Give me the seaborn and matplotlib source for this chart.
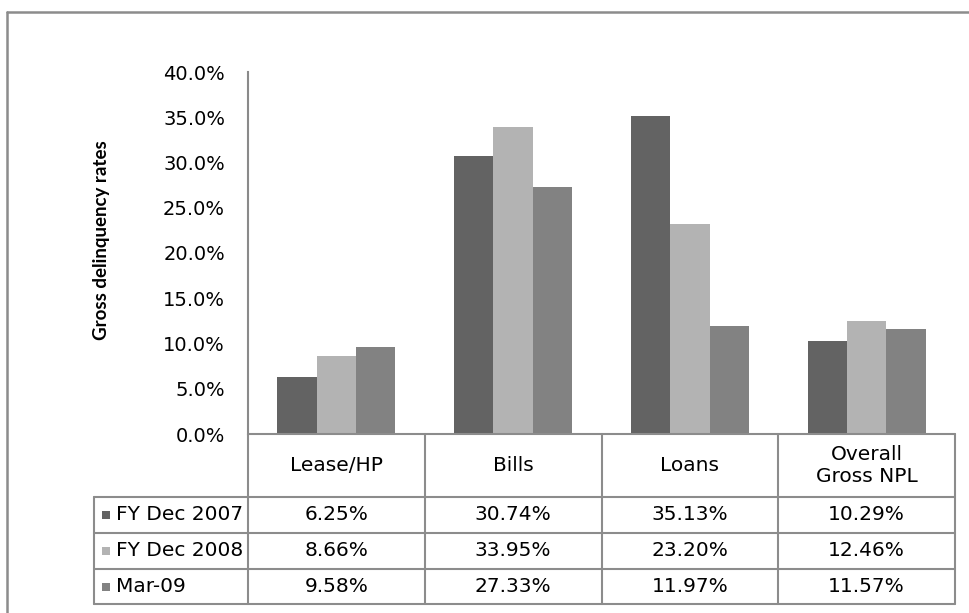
import matplotlib
matplotlib.use("Agg")
import matplotlib.pyplot as plt
from matplotlib.lines import Line2D
from matplotlib.patches import Rectangle
from matplotlib.ticker import FuncFormatter
import pandas as pd
import seaborn as sns

# Delinquency rates (%) by portfolio segment
categories = ["Lease/HP", "Bills", "Loans", "Overall\nGross NPL"]
series = ["FY Dec 2007", "FY Dec 2008", "Mar-09"]
rates_dec2007 = [6.25, 30.74, 35.13, 10.29]
rates_dec2008 = [8.66, 33.95, 23.20, 12.46]
rates_mar2009 = [9.58, 27.33, 11.97, 11.57]
colors = ["#636363", "#b3b3b3", "#828282"]
yticks = [0, 5, 10, 15, 20, 25, 30, 35, 40]

rows = [rates_dec2007, rates_dec2008, rates_mar2009]
df = pd.DataFrame(
    [(c, s, v) for s, vals in zip(series, rows) for c, v in zip(categories, vals)],
    columns=["category", "series", "rate"],
)

W, H = 969, 613
sns.set_theme(style="white")
plt.rcParams["font.family"] = ["DejaVu Sans"]
plt.rcParams["text.color"] = "#000000"
fig = plt.figure(figsize=(W / 100, H / 100), dpi=100)

def fx(px):
    return px / W

def fy(py):
    return 1 - py / H

ax_left, ax_right, ax_top, ax_bottom = 248, 955, 72, 434
ax = fig.add_axes([fx(ax_left), fy(ax_bottom), fx(ax_right - ax_left), (ax_bottom - ax_top) / H])

sns.barplot(data=df, x="category", y="rate", hue="series", hue_order=series,
            order=categories, palette=colors, width=0.667, gap=0,
            saturation=1, ax=ax, legend=False, linewidth=0)

ax.set_xlim(-0.5, 3.5)
ax.set_ylim(0, 40)
ax.set_yticks(yticks)
ax.yaxis.set_major_formatter(FuncFormatter(lambda v, _: f"{v:.1f}%"))
ax.set_xticks([])
ax.set_xlabel("")
ax.set_ylabel("")
ax.tick_params(axis="y", length=0, pad=16.5, labelsize=14, labelcolor="#000000")
for side in ["top", "right", "bottom"]:
    ax.spines[side].set_visible(False)
ax.spines["left"].set_color("#8a8a8a")
ax.spines["left"].set_linewidth(1.5)

fig.text(fx(101), fy(240), "Gross delinquency rates", rotation=90,
         ha="center", va="center", fontsize=13.5, fontweight="bold",
         family=["Lato", "DejaVu Sans"], color="#000000")

# Data table beneath the plot
fig.canvas.draw()
col_px = [ax.transData.transform((x, 0))[0] for x in [-0.5, 0.5, 1.5, 2.5, 3.5]]
col_x = [p / W for p in col_px]
header_top, header_bottom = 434, 497
row_edges = [497, 533, 569, 604]
table_left = 94
line_kw = dict(color="#8c8c8c", linewidth=1.5)

def hline(x0, x1, py):
    fig.add_artist(Line2D([x0, x1], [fy(py), fy(py)], transform=fig.transFigure, **line_kw))

def vline(x, py0, py1):
    fig.add_artist(Line2D([x, x], [fy(py0), fy(py1)], transform=fig.transFigure, **line_kw))

hline(col_x[0], col_x[-1], header_top)
for py in row_edges:
    hline(fx(table_left), col_x[-1], py)
for x in col_x:
    vline(x, header_top, row_edges[-1])
vline(fx(table_left), row_edges[0], row_edges[-1])

for i, cat in enumerate(categories):
    cx = (col_x[i] + col_x[i + 1]) / 2
    fig.text(cx, fy((header_top + header_bottom) / 2), cat, ha="center", va="center",
             fontsize=14.5, linespacing=1.2)

for r, (name, vals, col) in enumerate(zip(series, rows, colors)):
    cy = fy((row_edges[r] + row_edges[r + 1]) / 2)
    fig.add_artist(Rectangle((fx(102), cy - 4 / H), 8 / W, 8 / H,
                             transform=fig.transFigure, color=col, linewidth=0))
    fig.text(fx(116), cy, name, ha="left", va="center", fontsize=14.5)
    for i, v in enumerate(vals):
        cx = (col_x[i] + col_x[i + 1]) / 2
        fig.text(cx, cy, f"{v:.2f}%", ha="center", va="center", fontsize=14.5)

# Chart-area frame (open to the right and bottom)
frame_kw = dict(color="#8c8c8c", linewidth=1.8)
fig.add_artist(Line2D([fx(7), 1.0], [fy(12), fy(12)], transform=fig.transFigure, **frame_kw))
fig.add_artist(Line2D([fx(7), fx(7)], [fy(12), 0.0], transform=fig.transFigure, **frame_kw))

fig.savefig("out.png", dpi=100)
